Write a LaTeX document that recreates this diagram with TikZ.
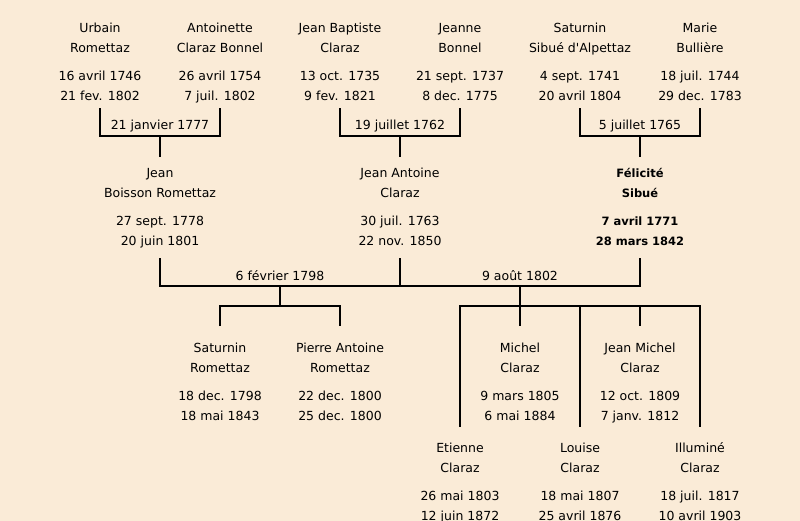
\documentclass[tikz,border=0pt]{standalone}
\usepackage{fontspec}
\setmainfont{DejaVu Sans}
\usepackage{tikz}
\usepackage{xcolor}
\definecolor{parchment}{HTML}{FAEBD7}

\begin{document}
\begin{tikzpicture}[x=1pt,y=-1pt,
    person/.style={anchor=north,align=center,inner sep=0pt,font=\fontsize{12.5}{20}\selectfont},
    wedding/.style={anchor=base,inner sep=0pt,font=\fontsize{12.5}{20}\selectfont},
    link/.style={line width=2pt}]
    \useasboundingbox (0,0) rectangle (800,521);
    \fill[parchment] (0,0) rectangle (800,521);
    % Grandparents
    \node[person] (urbain) at (100,18) {\strut Urbain\\Romettaz\\[8.5pt]16 avril 1746\\21 fev. 1802\strut};
    \node[person] (antoinette) at (220,18) {\strut Antoinette\\Claraz Bonnel\\[8.5pt]26 avril 1754\\7 juil. 1802\strut};
    \node[person] (baptiste) at (340,18) {\strut Jean Baptiste\\Claraz\\[8.5pt]13 oct. 1735\\9 fev. 1821\strut};
    \node[person] (jeanne) at (460,18) {\strut Jeanne\\Bonnel\\[8.5pt]21 sept. 1737\\8 dec. 1775\strut};
    \node[person] (saturninsib) at (580,18) {\strut Saturnin\\Sibué d\textquotesingle Alpettaz\\[8.5pt]4 sept. 1741\\20 avril 1804\strut};
    \node[person] (marie) at (700,18) {\strut Marie\\Bullière\\[8.5pt]18 juil. 1744\\29 dec. 1783\strut};
    \coordinate (w1) at (160,136);
    \coordinate (w2) at (400,136);
    \coordinate (w3) at (640,136);
    \node[wedding] (d1) at (160,130) {21 janvier 1777};
    \node[wedding] (d2) at (400,130) {19 juillet 1762};
    \node[wedding] (d3) at (640,130) {5 juillet 1765};
    \draw[link,shorten <=1.5pt,shorten >=1.5pt] (urbain.south) |- (w1) -| (antoinette.south);
    \draw[link,shorten <=1.5pt,shorten >=1.5pt] (baptiste.south) |- (w2) -| (jeanne.south);
    \draw[link,shorten <=1.5pt,shorten >=1.5pt] (saturninsib.south) |- (w3) -| (marie.south);
    % Parents
    \node[person] (jean) at (160,163) {\strut Jean\\Boisson Romettaz\\[8.5pt]27 sept. 1778\\20 juin 1801\strut};
    \node[person] (jeanantoine) at (400,163) {\strut Jean Antoine\\Claraz\\[8.5pt]30 juil. 1763\\22 nov. 1850\strut};
    \node[person,font=\fontsize{11.5}{20}\selectfont\bfseries] (felicite) at (640,163) {\strut Félicité\\Sibué\\[8.5pt]7 avril 1771\\28 mars 1842\strut};
    \draw[link,shorten >=6pt] (w1) -- (jean.north);
    \draw[link,shorten >=6pt] (w2) -- (jeanantoine.north);
    \draw[link,shorten >=6pt] (w3) -- (felicite.north);
    \coordinate (w4) at (280,286);
    \coordinate (w5) at (520,286);
    \node[wedding] (d4) at (280,280) {6 février 1798};
    \node[wedding] (d5) at (520,280) {9 août 1802};
    \draw[link,shorten <=6.5pt,shorten >=6.5pt] (jean.south) |- (w4) -| (jeanantoine.south);
    \draw[link,shorten <=6.5pt,shorten >=6.5pt] (jeanantoine.south) |- (w5) -| (felicite.south);
    % Children
    \node[person] (saturnin) at (220,338) {\strut Saturnin\\Romettaz\\[8.5pt]18 dec. 1798\\18 mai 1843\strut};
    \node[person] (pierre) at (340,338) {\strut Pierre Antoine\\Romettaz\\[8.5pt]22 dec. 1800\\25 dec. 1800\strut};
    \node[person] (michel) at (520,338) {\strut Michel\\Claraz\\[8.5pt]9 mars 1805\\6 mai 1884\strut};
    \node[person] (jeanmichel) at (640,338) {\strut Jean Michel\\Claraz\\[8.5pt]12 oct. 1809\\7 janv. 1812\strut};
    \node[person] (etienne) at (460,438) {\strut Etienne\\Claraz\\[8.5pt]26 mai 1803\\12 juin 1872\strut};
    \node[person] (louise) at (580,438) {\strut Louise\\Claraz\\[8.5pt]18 mai 1807\\25 avril 1876\strut};
    \node[person] (illumine) at (700,438) {\strut Illuminé\\Claraz\\[8.5pt]18 juil. 1817\\10 avril 1903\strut};
    \coordinate (k1) at (280,306);
    \coordinate (k2) at (520,306);
    \draw[link] (w4) -- (k1);
    \draw[link,shorten <=12pt,shorten >=12pt] (saturnin.north) |- (k1) -| (pierre.north);
    \draw[link,shorten >=12pt] (w5) -- (michel.north);
    \draw[link,shorten <=11.5pt,shorten >=11.5pt] (etienne.north) |- (k2) -| (illumine.north);
    \draw[link,shorten >=11.5pt] (louise.north |- k2) -- (louise.north);
    \draw[link,shorten >=12pt] (jeanmichel.north |- k2) -- (jeanmichel.north);
\end{tikzpicture}
\end{document}
